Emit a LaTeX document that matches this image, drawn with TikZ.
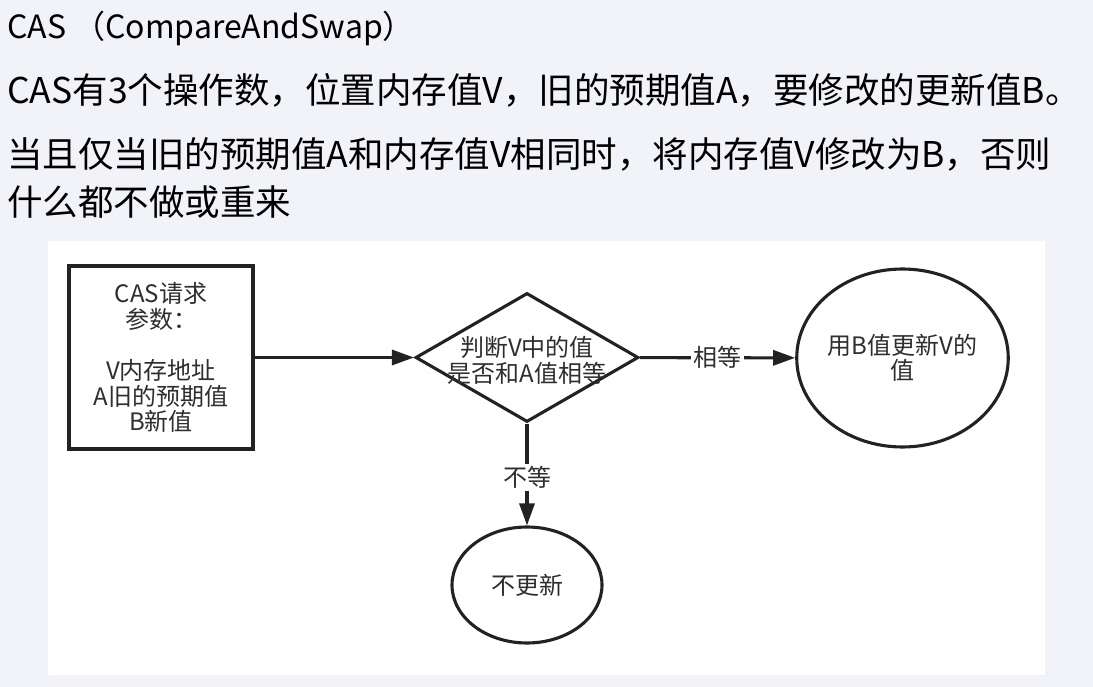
\documentclass[tikz,border=0pt]{standalone}
\usepackage{fontspec}
\setmainfont{Noto Sans CJK SC}
\usepackage{tikz}
\usetikzlibrary{shapes.geometric,arrows.meta}
\definecolor{pagebg}{HTML}{F2F3F8}
\definecolor{ink}{HTML}{222222}
\definecolor{figtext}{HTML}{2E2E2E}
\begin{document}
\begin{tikzpicture}[x=1pt,y=-1pt,
  title/.style={anchor=base west, inner sep=0pt, font=\fontsize{35.5}{40}\selectfont},
  box/.style={draw=ink, line width=3.1pt, text=figtext, align=center,
    font=\fontsize{24}{25.6}\selectfont},
  arr/.style={draw=ink, line width=3.1pt, -{Triangle[length=22pt,width=15pt]}},
  lbl/.style={fill=white, text=figtext, inner sep=2.5pt, font=\fontsize{24}{25.6}\selectfont}]
\useasboundingbox (0,0) rectangle (1093,687);
\fill[pagebg] (0,0) rectangle (1093,687);
\fill[white] (48,241) rectangle (1045,675);
% heading and text above the figure
\node[title, font=\fontsize{32}{36}\selectfont] (head) at (7,39) {CAS （CompareAndSwap）};
\node[title] (line1) at (7,104) {CAS有3个操作数，位置内存值V，旧的预期值A，要修改的更新值B。};
\node[title] (line2) at (7,167.5) {当且仅当旧的预期值A和内存值V相同时，将内存值V修改为B，否则};
\node[title] (line3) at (7,216) {什么都不做或重来};
% flow chart
\node[box, rectangle, minimum width=184pt, minimum height=183pt] (req) at (161,357.5)
  {CAS请求\\参数：\\ \\V内存地址\\A旧的预期值\\B新值};
\node[box, diamond, minimum width=223pt, minimum height=129pt, inner sep=0pt] (judge) at (527,357.5) {};
\node[text=figtext, align=center, font=\fontsize{24}{25.6}\selectfont] (judgetext) at (527,360.5)
  {判断V中的值\\是否和A值相等};
\node[box, ellipse, minimum width=199pt, minimum height=178pt, inner sep=0pt] (upd) at (902.5,358)
  {用B值更新V的\\值};
\node[box, ellipse, minimum width=150pt, minimum height=116pt, inner sep=0pt] (keep) at (527,585) {不更新};
\draw[arr] (req) -- (judge);
\draw[arr] (judge) -- node[lbl] (same) {相等} (upd);
\draw[arr] (judge) -- node[lbl, pos=0.53] (diff) {不等} (keep);
\end{tikzpicture}
\end{document}
